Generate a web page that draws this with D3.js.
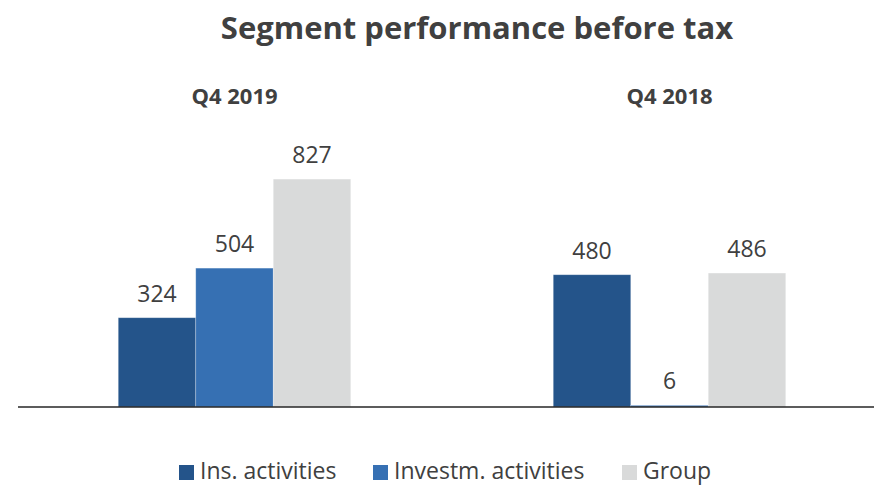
<!DOCTYPE html>
<html>
<head>
<meta charset="utf-8">
<script src="https://cdn.jsdelivr.net/npm/d3@7"></script>
<style>
  body { margin: 0; background: #fff; }
  text { font-family: "Open Sans", "Noto Sans", sans-serif; fill: #404040; }
</style>
</head>
<body>
<div id="chart"></div>
<script>
// data
var periods = ['Q4 2019', 'Q4 2018'];
var seriesNames = ['Ins. activities', 'Investm. activities', 'Group'];
var insActivities = [324, 480];
var investmActivities = [504, 6];
var group = [827, 486];

var colors = ['#24548a', '#3670b3', '#d9dada'];

var width = 874, height = 486;
var baseline = 407;

var rows = periods.map(function(p, i) {
  return { period: p, values: [insActivities[i], investmActivities[i], group[i]] };
});

var svg = d3.select('#chart').append('svg')
  .attr('width', width)
  .attr('height', height);

// gap width like the office chart: padding outer is half the inner
var p = 0.4655;
var x0 = d3.scaleBand()
  .domain(periods)
  .range([17, 887])
  .paddingInner(p)
  .paddingOuter(p / 2);

var x1 = d3.scaleBand()
  .domain(seriesNames)
  .range([0, x0.bandwidth()]);

var y = d3.scaleLinear()
  .domain([0, 900])
  .range([baseline, baseline - 248]);

svg.append('text')
  .attr('x', 477)
  .attr('y', 39)
  .attr('text-anchor', 'middle')
  .style('font-size', '31px')
  .style('font-weight', 'bold')
  .text('Segment performance before tax');

var g = svg.selectAll('.period')
  .data(rows)
  .enter().append('g')
  .attr('class', 'period')
  .attr('transform', function(d) { return 'translate(' + x0(d.period) + ',0)'; });

g.append('text')
  .attr('x', x0.bandwidth() / 2)
  .attr('y', 104)
  .attr('text-anchor', 'middle')
  .style('font-size', '22px')
  .style('font-weight', 'bold')
  .text(function(d) { return d.period; });

var bars = g.selectAll('.bar')
  .data(function(d) { return d.values.map(function(v, i) { return { name: seriesNames[i], value: v, c: colors[i] }; }); })
  .enter().append('g')
  .attr('class', 'bar');

bars.append('rect')
  .attr('x', function(d) { return x1(d.name); })
  .attr('y', function(d) { return y(d.value); })
  .attr('width', x1.bandwidth())
  .attr('height', function(d) { return baseline - y(d.value); })
  .attr('fill', function(d) { return d.c; })
  .attr('stroke', '#ffffff')
  .attr('stroke-opacity', 0.35)
  .attr('stroke-width', 0.75);

bars.append('text')
  .attr('x', function(d) { return x1(d.name) + x1.bandwidth() / 2; })
  .attr('y', function(d) { return y(d.value) - 16; })
  .attr('text-anchor', 'middle')
  .style('font-size', '23px')
  .text(function(d) { return d.value; });

// baseline
svg.append('line')
  .attr('x1', 18)
  .attr('x2', width)
  .attr('y1', baseline)
  .attr('y2', baseline)
  .attr('stroke', '#262626')
  .attr('stroke-width', 1.5);

// legend
var legendX = [179, 373, 622];
var legend = svg.selectAll('.legend')
  .data(seriesNames)
  .enter().append('g')
  .attr('class', 'legend')
  .attr('transform', function(d, i) { return 'translate(' + legendX[i] + ',465)'; });

legend.append('rect')
  .attr('width', 15)
  .attr('height', 15)
  .attr('fill', function(d, i) { return colors[i]; });

legend.append('text')
  .attr('x', 21)
  .attr('y', 14)
  .style('font-size', '23px')
  .text(function(d) { return d; });
</script>
</body>
</html>
